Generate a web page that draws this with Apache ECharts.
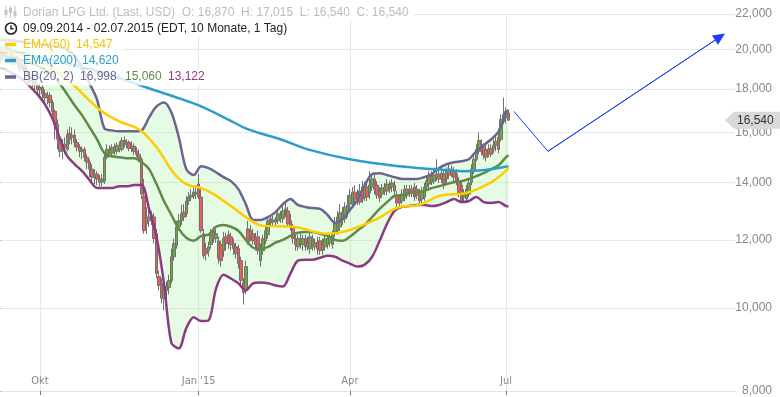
<!DOCTYPE html>
<html>
<head>
<meta charset="utf-8">
<script src="https://cdn.jsdelivr.net/npm/echarts@6/dist/echarts.min.js"></script>
<style>
html, body { margin: 0; padding: 0; background: #fff; }
#chart { width: 780px; height: 397px; }
</style>
</head>
<body>
<div id="chart"></div>
<script>
// trading days: index 0 = 09.09.2014 ... index 205 = 02.07.2015
// [open, close, low, high]
var ohlc = [
[19.46,19.88,19.30,20.09],[19.88,19.67,19.46,20.04],[19.67,20.09,19.56,20.25],[20.09,19.99,19.77,20.30],
[19.99,19.56,19.41,20.14],[19.56,19.35,19.15,19.72],[19.35,19.61,19.20,19.77],[19.61,19.25,19.05,19.72],
[19.25,19.05,18.84,19.35],[19.05,19.15,18.84,19.30],[19.15,18.84,18.64,19.25],[18.84,18.69,18.45,18.94],
[18.69,18.35,18.16,18.79],[18.35,18.45,18.06,18.64],[18.45,18.20,17.82,18.55],[18.16,17.96,17.68,18.30],
[17.96,18.06,17.58,18.25],[18.06,17.77,17.49,18.20],[17.77,17.58,17.30,17.96],[17.58,17.68,17.26,17.87],
[17.68,17.35,17.12,17.82],[17.35,16.94,16.76,17.49],[16.94,16.36,15.72,17.03],[16.36,15.72,15.30,16.58],
[15.72,15.22,14.98,15.93],[15.22,15.51,14.90,15.72],[15.51,15.39,15.10,15.80],[15.30,15.93,15.22,16.14],
[15.97,15.72,15.51,16.27],[15.80,15.89,15.51,16.23],[15.89,15.59,15.39,16.14],[15.59,15.39,15.22,15.72],
[15.39,15.22,14.98,15.51],[15.22,15.30,14.90,15.43],[15.30,14.98,14.82,15.39],[14.98,14.78,14.51,15.10],
[14.78,14.51,14.20,14.90],[14.51,14.20,14.01,14.70],[14.20,14.32,13.94,14.51],[14.32,14.13,13.90,14.43],
[14.13,14.01,13.86,14.28],[14.01,14.13,13.86,14.32],[14.05,14.98,13.94,15.10],[14.98,15.30,14.90,15.51],
[15.30,15.14,14.98,15.47],[15.14,15.39,15.02,15.51],[15.39,15.22,15.06,15.55],[15.22,15.47,15.10,15.59],
[15.47,15.30,15.18,15.63],[15.30,15.67,15.22,15.80],[15.67,15.51,15.39,15.84],[15.51,15.59,15.34,15.72],
[15.59,15.34,15.22,15.67],[15.34,15.43,15.18,15.63],[15.43,15.22,15.06,15.55],[15.22,15.10,14.98,15.39],
[15.10,14.90,14.78,15.30],[14.90,13.57,13.39,14.98],[13.50,12.30,12.20,14.13],[12.53,12.76,12.20,13.11],
[12.76,12.63,12.43,13.04],[12.70,12.83,12.49,12.97],[12.76,12.04,11.88,12.90],[12.20,10.96,10.82,12.36],
[10.88,10.62,10.48,11.05],[10.68,10.26,10.12,10.82],[10.26,10.53,9.93,10.68],[10.48,10.59,10.12,10.73],
[10.56,10.76,10.37,10.93],[10.76,11.47,10.68,11.72],[11.47,11.88,11.35,12.04],[11.81,12.43,11.72,12.63],
[12.43,12.63,12.30,12.87],[12.63,12.87,12.49,13.18],[12.93,12.76,12.63,13.21],[12.87,13.32,12.76,13.50],
[13.32,13.46,13.18,13.64],[13.46,13.53,13.32,13.75],[13.50,13.64,13.39,13.83],[13.64,13.57,13.39,13.90],
[13.94,13.46,13.39,14.32],[13.46,12.30,12.23,13.83],[12.20,11.50,11.41,12.36],[11.72,11.56,11.35,11.91],
[11.66,11.78,11.47,11.94],[11.85,12.17,11.72,12.36],[12.30,12.04,11.91,12.43],[12.04,12.20,11.91,12.36],
[11.97,11.41,11.26,12.10],[11.85,11.35,11.17,11.97],[11.66,12.04,11.47,12.26],[12.10,11.88,11.66,12.23],
[12.17,11.91,11.72,12.30],[12.10,11.85,11.66,12.23],[11.88,11.72,11.53,12.04],[11.78,11.56,11.41,11.91],
[11.72,11.26,11.11,11.85],[11.35,10.76,10.59,11.47],[10.70,10.42,10.09,10.82],[10.48,11.17,10.37,11.35],
[12.36,11.94,11.85,12.63],[12.30,12.10,11.97,12.49],[12.20,11.97,11.85,12.36],[12.04,11.85,11.66,12.23],
[12.10,11.66,11.53,12.30],[11.35,11.72,11.17,11.88],[11.66,12.04,11.53,12.17],[11.97,12.30,11.85,12.43],
[12.17,12.63,12.04,12.76],[12.70,12.56,12.43,12.83],[12.59,12.66,12.49,12.80],[12.66,12.59,12.49,12.76],
[12.63,12.87,12.53,12.97],[12.83,12.70,12.56,12.97],[12.70,12.97,12.56,13.18],[12.97,13.04,12.76,13.25],
[12.97,12.53,12.43,13.11],[12.63,12.43,12.30,12.87],[12.43,12.04,11.88,12.53],[12.04,11.85,11.66,12.17],
[11.78,12.04,11.66,12.17],[12.04,11.85,11.72,12.20],[11.85,12.04,11.66,12.17],[12.04,11.78,11.66,12.17],
[11.78,11.88,11.66,12.10],[11.72,12.10,11.56,12.23],[12.04,11.78,11.66,12.17],[11.78,11.91,11.66,12.04],
[11.91,11.72,11.53,12.10],[11.97,11.66,11.53,12.10],[11.66,11.85,11.53,12.04],[11.78,12.04,11.66,12.17],
[11.85,12.04,11.72,12.17],[11.91,12.10,11.78,12.23],[11.85,12.17,11.72,12.30],[12.23,12.56,12.10,12.76],
[12.30,12.76,12.17,12.97],[12.43,12.90,12.30,13.21],[12.93,12.66,12.49,13.11],[12.70,13.11,12.56,13.28],
[12.90,13.18,12.76,13.53],[13.21,13.53,13.04,13.75],[13.21,13.64,13.11,13.83],[13.64,13.39,13.25,13.90],
[13.57,13.28,13.18,13.75],[13.68,13.28,13.18,13.94],[13.83,13.39,13.25,14.05],[13.46,13.83,13.32,14.01],
[13.83,13.46,13.32,13.98],[13.61,13.90,13.39,14.43],[13.83,14.13,13.68,14.32],[14.13,13.75,13.57,14.28],
[13.90,13.53,13.39,14.05],[13.68,13.43,13.28,13.83],[13.57,13.79,13.43,13.94],[13.83,13.68,13.53,13.98],
[13.68,13.94,13.53,14.13],[13.90,13.75,13.61,14.05],[13.83,13.98,13.64,14.13],[13.90,13.68,13.53,14.05],
[13.53,13.25,13.11,13.68],[13.46,13.25,13.11,13.57],[13.32,13.57,13.21,13.75],[13.46,13.75,13.32,13.90],
[13.75,13.53,13.39,13.90],[13.61,13.75,13.46,13.90],[13.75,13.61,13.46,13.90],[13.83,13.46,13.32,13.98],
[13.75,13.53,13.39,13.90],[13.64,13.32,13.21,13.75],[13.39,13.68,13.25,13.83],[13.46,13.83,13.32,13.98],
[13.83,14.05,13.68,14.20],[13.94,14.28,13.75,14.43],[14.24,14.01,13.90,14.43],[14.05,14.28,13.94,14.51],
[14.20,14.32,14.05,14.90],[14.32,14.13,13.98,14.51],[14.13,14.35,13.98,14.51],[14.32,13.90,13.75,14.51],
[14.13,14.43,13.98,14.59],[14.51,14.28,14.13,14.70],[14.28,14.51,14.20,14.66],[14.43,14.20,14.05,14.59],
[14.32,14.05,13.90,14.51],[14.05,13.61,13.46,14.20],[13.90,13.32,13.25,14.05],[13.46,13.61,13.25,13.75],
[13.39,13.75,13.28,13.90],[13.57,13.98,13.46,14.13],[14.01,14.51,13.90,14.70],[14.43,14.90,14.32,15.10],
[14.90,15.30,14.82,15.51],[15.22,15.67,15.10,16.01],[15.51,15.22,15.06,15.72],[15.39,15.06,14.90,15.55],
[15.30,14.98,14.82,15.47],[15.14,15.30,14.98,15.51],[15.34,15.10,14.98,15.51],[15.30,15.47,15.14,15.72],
[15.47,15.63,15.22,15.93],[15.80,15.30,15.14,16.06],[15.72,16.58,15.63,16.80],[16.49,16.80,16.36,17.58],
[16.67,16.94,16.40,17.12],[16.87,16.54,16.54,17.015]
];

var monthTicks = [16, 80, 141, 204];
var monthLabels = ['Okt', 'Jan \'15', 'Apr', 'Jul'];
var priceTicks = [8, 10, 12, 14, 16, 18, 20, 22];

// Bollinger (20, 2), read every 3rd day
var bbIdx = [0,3,6,9,12,15,18,21,24,27,30,33,36,39,42,45,48,51,54,57,60,63,66,69,72,75,78,81,84,87,
  90,93,96,99,102,105,108,111,114,117,120,123,126,129,132,135,138,141,144,147,150,153,156,159,162,165,
  168,171,174,177,180,183,186,189,192,195,198,201,204,205];
var bbUpper = [20.52,20.52,20.47,20.42,20.36,20.31,20.25,20.20,20.14,19.99,
  19.67,19.05,18.25,17.49,16.18,16.10,16.06,16.06,16.06,16.10,
  16.67,17.17,17.35,16.89,15.80,14.51,14.28,14.62,14.55,14.39,
  14.20,14.05,13.75,13.21,12.66,12.66,12.76,12.93,13.21,13.39,
  13.18,13.11,13.07,13.04,12.83,12.56,12.70,13.00,13.35,13.90,
  14.32,14.35,14.28,14.20,14.13,14.13,14.13,14.20,14.32,14.55,
  14.70,14.78,14.82,14.90,15.22,15.47,15.72,16.06,16.89,16.998];
var bbMid = [19.72,19.61,19.51,19.41,19.30,19.15,18.94,18.69,18.25,17.73,
  17.21,16.76,16.23,15.72,15.14,15.02,14.98,14.94,14.94,14.78,
  14.51,13.94,13.32,12.83,12.36,12.07,11.97,12.13,12.17,12.43,
  12.49,12.43,12.30,12.00,11.75,11.72,11.78,11.91,12.00,12.13,
  12.23,12.26,12.26,12.20,12.13,12.00,11.97,12.10,12.30,12.49,
  12.76,13.04,13.28,13.50,13.53,13.61,13.64,13.68,13.79,13.86,
  13.94,14.01,14.05,14.13,14.24,14.35,14.51,14.66,14.98,15.06];
var bbLower = [19.05,18.89,18.69,18.45,18.11,17.73,17.26,16.62,15.76,15.02,
  14.70,14.43,14.09,13.79,13.79,13.79,13.86,13.86,13.90,13.90,
  13.04,12.10,10.68,9.10,8.97,9.47,9.75,9.65,9.67,10.53,
  10.93,10.82,10.68,10.48,10.68,10.70,10.68,10.62,10.59,10.96,
  11.35,11.38,11.38,11.44,11.50,11.47,11.35,11.26,11.17,11.23,
  11.47,11.97,12.53,12.97,13.11,13.14,13.18,13.18,13.14,13.18,
  13.28,13.39,13.28,13.32,13.46,13.28,13.25,13.28,13.14,13.122];

// [day index, value]
var ema50 = [[0,19.99],[16,19.35],[27,18.45],[40,17.03],[48,16.49],[56,16.14],[63,15.39],[70,14.35],
  [75,13.94],[81,13.79],[86,13.57],[93,13.14],[100,12.70],[106,12.46],[118,12.43],[132,12.20],
  [140,12.30],[152,12.70],[161,13.11],[169,13.18],[177,13.50],[188,13.61],[195,13.86],[200,14.13],[205,14.547]];
var ema200 = [[0,20.09],[20,19.46],[40,18.84],[59,18.06],[70,17.63],[81,17.17],[92,16.57],[100,16.14],
  [113,15.72],[124,15.30],[141,14.90],[161,14.62],[175,14.51],[188,14.43],[205,14.62]];

// hand drawn forecast arrow
var trendArrow = [[207.2,16.94],[220.9,15.22],[290.3,20.69]];

function fmt(v) { return v.toFixed(3).replace('.', ','); }

var FONT = '"Liberation Sans", Arial, sans-serif';
var last = ohlc[ohlc.length - 1];
var n = bbIdx.length - 1;

function pairs(xs, ys) { return xs.map(function (x, k) { return [x, ys[k]]; }); }

var chart = echarts.init(document.getElementById('chart'), null, { renderer: 'canvas' });

function legendText(x, y, text, color) {
  return { type: 'text', x: x, y: y, z: 101,
    style: { text: text, fill: color, font: '12px ' + FONT, verticalAlign: 'middle' } };
}
function rowBg(y, w, h) {
  return { type: 'rect', z: 100, shape: { x: 0, y: y, width: w, height: h },
    style: { fill: 'rgba(255,255,255,0.82)' } };
}
function dash(y, color) {
  return { type: 'line', z: 101, shape: { x1: 5, y1: y, x2: 16, y2: y },
    style: { stroke: color, lineWidth: 3.5 } };
}

var graphics = [
  rowBg(4, 414, 16.5), rowBg(20.5, 296, 16), rowBg(36.5, 122, 16), rowBg(52.5, 128, 16), rowBg(68.5, 210, 17),
  // candle icon
  { type: 'line', z: 101, shape: { x1: 6, y1: 6, x2: 6, y2: 18 }, style: { stroke: '#c6c6c6', lineWidth: 1 } },
  { type: 'rect', z: 101, shape: { x: 4.5, y: 10, width: 3, height: 5 }, style: { fill: '#c6c6c6' } },
  { type: 'line', z: 101, shape: { x1: 10.5, y1: 6, x2: 10.5, y2: 18 }, style: { stroke: '#c6c6c6', lineWidth: 1 } },
  { type: 'rect', z: 101, shape: { x: 9, y: 8, width: 3, height: 5 }, style: { fill: '#c6c6c6' } },
  { type: 'line', z: 101, shape: { x1: 15, y1: 6, x2: 15, y2: 18 }, style: { stroke: '#c6c6c6', lineWidth: 1 } },
  { type: 'rect', z: 101, shape: { x: 13.5, y: 11, width: 3, height: 5 }, style: { fill: '#c6c6c6' } },
  // clock icon
  { type: 'circle', z: 101, shape: { cx: 11, cy: 28.5, r: 5.5 }, style: { stroke: '#222', fill: 'none', lineWidth: 1.6 } },
  { type: 'polyline', z: 101, shape: { points: [[11, 25.3], [11, 28.7], [13.6, 28.7]] }, style: { stroke: '#222', fill: 'none', lineWidth: 1.4 } },
  dash(44.5, '#ffcc00'), dash(60.5, '#2c9dc9'), dash(77, '#6c6590'),
  legendText(23, 12.5, 'Dorian LPG Ltd. (Last, USD)  O: ' + fmt(last[0]) + '  H: ' + fmt(last[3]) +
    '  L: ' + fmt(last[2]) + '  C: ' + fmt(last[1]), '#bdbdbd'),
  legendText(23, 28.5, '09.09.2014 - 02.07.2015 (EDT, 10 Monate, 1 Tag)', '#222'),
  legendText(23, 44.5, 'EMA(50)', '#f7c600'),
  legendText(76, 44.5, fmt(ema50[ema50.length - 1][1]), '#f7c600'),
  legendText(23, 60.5, 'EMA(200)', '#2a9fd0'),
  legendText(82, 60.5, fmt(ema200[ema200.length - 1][1]), '#2a9fd0'),
  legendText(23, 77, 'BB(20, 2)', '#6c6590'),
  legendText(80, 77, fmt(bbUpper[n]), '#6c6590'),
  legendText(125, 77, fmt(bbMid[n]), '#5e8b4a'),
  legendText(168, 77, fmt(bbLower[n]), '#8b3b83')
];

var option = {
  animation: false,
  backgroundColor: '#fff',
  grid: { left: 0, right: 45, top: 14, bottom: 4, containLabel: false },
  xAxis: {
    type: 'value', min: -0.137, max: 296.35,
    axisLine: { show: true, lineStyle: { color: '#e2e2e2' } },
    axisTick: { show: true, customValues: monthTicks, length: 4, lineStyle: { color: '#777' } },
    axisLabel: {
      inside: true, customValues: monthTicks, margin: 4, color: '#888', fontSize: 11,
      fontFamily: '"Liberation Sans Narrow", "DejaVu Sans Condensed", "Liberation Sans", sans-serif',
      formatter: function (v) { return monthLabels[monthTicks.indexOf(v)]; }
    },
    splitLine: { show: true, lineStyle: { color: '#e8e8e8' } }
  },
  yAxis: {
    type: 'log', position: 'right', offset: 44, min: 8, max: 22,
    axisLine: { show: false },
    axisTick: { show: true, inside: true, length: 4, customValues: priceTicks, lineStyle: { color: '#555' } },
    axisLabel: { inside: true, margin: 7, customValues: priceTicks, color: '#888', fontSize: 12,
      fontFamily: FONT, formatter: fmt },
    splitLine: { show: true, lineStyle: { color: '#e8e8e8' } }
  },
  graphic: graphics,
  series: [
    // band fill between upper and lower Bollinger lines
    { type: 'custom', name: 'bbFill', data: [[0, bbLower[0]]], z: 1, silent: true,
      renderItem: function (params, api) {
        var pts = [];
        for (var k = 0; k < bbIdx.length; k++) pts.push(api.coord([bbIdx[k], bbUpper[k]]));
        for (var j = bbIdx.length - 1; j >= 0; j--) pts.push(api.coord([bbIdx[j], bbLower[j]]));
        return { type: 'polygon', shape: { points: pts }, style: { fill: 'rgba(140,235,130,0.22)' } };
      } },
    { type: 'candlestick', name: 'price',
      data: ohlc.map(function (d, i) { return [i, d[0], d[1], d[2], d[3]]; }),
      encode: { x: 0, y: [1, 2, 3, 4] }, barWidth: 3,
      itemStyle: { color: '#69ad3a', color0: '#ef5b56', borderColor: '#707070', borderColor0: '#707070', borderWidth: 1 },
      z: 2 },
    { type: 'line', name: 'BB upper', data: pairs(bbIdx, bbUpper), symbol: 'none', smooth: 0.3,
      lineStyle: { color: '#6c6590', width: 2.5 }, z: 3 },
    { type: 'line', name: 'BB mid', data: pairs(bbIdx, bbMid), symbol: 'none', smooth: 0.3,
      lineStyle: { color: '#5e8b4a', width: 2.5 }, z: 3 },
    { type: 'line', name: 'BB lower', data: pairs(bbIdx, bbLower), symbol: 'none', smooth: 0.3,
      lineStyle: { color: '#8b3b83', width: 2.5 }, z: 3 },
    { type: 'line', name: 'EMA(200)', data: ema200, symbol: 'none', smooth: 0.4,
      lineStyle: { color: '#2c9dc9', width: 2.5 }, z: 3 },
    { type: 'line', name: 'EMA(50)', data: ema50, symbol: 'none', smooth: 0.4,
      lineStyle: { color: '#ffcc00', width: 2.5 }, z: 3 },
    { type: 'line', name: 'arrow', data: trendArrow, symbol: 'none',
      lineStyle: { color: '#1f3ef5', width: 1 }, z: 4,
      markLine: { silent: true, animation: false, symbol: ['none', 'none'], label: { show: false },
        lineStyle: { color: '#1f3ef5', width: 1, type: 'solid' },
        data: [[{ coord: trendArrow[1] }, { coord: trendArrow[2], symbol: 'triangle', symbolSize: [11, 12] }]] } },
    { type: 'custom', name: 'lastTag', data: [[ohlc.length - 1, last[1]]], clip: false, z: 10,
      renderItem: function (params, api) {
        var pt = api.coord([api.value(0), api.value(1)]);
        var x0 = params.coordSys.x + params.coordSys.width - 10;
        var y = pt[1];
        return { type: 'group', children: [
          { type: 'polygon', shape: { points: [[x0, y], [x0 + 9, y - 8.5], [780, y - 8.5], [780, y + 8.5], [x0 + 9, y + 8.5]] },
            style: { fill: '#d9d9d9' } },
          { type: 'text', style: { text: fmt(api.value(1)), x: x0 + 12, y: y, verticalAlign: 'middle',
            fill: '#333', font: '12px ' + FONT } }
        ] };
      } }
  ]
};

chart.setOption(option);
</script>
</body>
</html>
